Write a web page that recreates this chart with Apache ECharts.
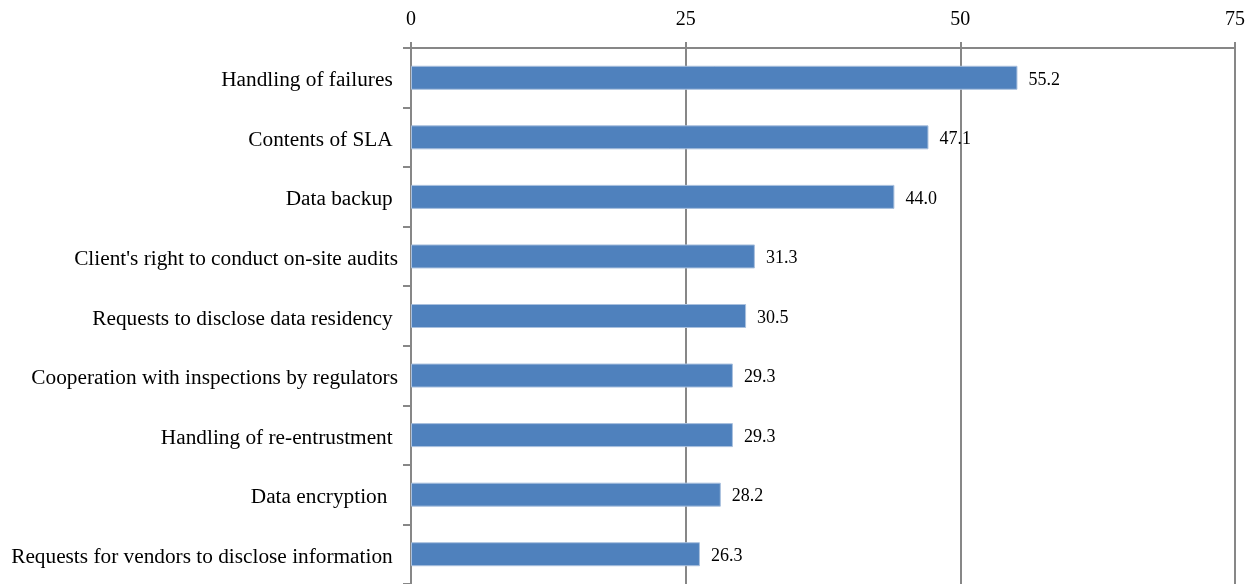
<!DOCTYPE html>
<html>
<head>
<meta charset="utf-8">
<script src="https://cdn.jsdelivr.net/npm/echarts@6/dist/echarts.min.js"></script>
<style>
  html, body { margin: 0; padding: 0; background: #fff; }
  #chart { width: 1258px; height: 584px; }
</style>
</head>
<body>
<div id="chart"></div>
<script>
// Contract items, top to bottom (trailing spaces keep the original label spacing)
const categories = [
  'Handling of failures ',
  'Contents of SLA ',
  'Data backup ',
  "Client's right to conduct on-site audits",
  'Requests to disclose data residency ',
  'Cooperation with inspections by regulators',
  'Handling of re-entrustment ',
  'Data encryption  ',
  'Requests for vendors to disclose information '
];
// Share of respondents (%)
const values = [55.2, 47.1, 44.0, 31.3, 30.5, 29.3, 29.3, 28.2, 26.3];
// Value axis ticks
const axisMin = 0;
const axisMax = 75;
const axisStep = 25;

const serif = 'Liberation Serif';
const gray = '#878787';

const chart = echarts.init(document.getElementById('chart'), null, { renderer: 'canvas' });
chart.setOption({
  animation: false,
  backgroundColor: '#ffffff',
  grid: { left: 411, right: 23, top: 48, bottom: -1, containLabel: false },
  xAxis: {
    type: 'value',
    position: 'top',
    min: axisMin,
    max: axisMax,
    interval: axisStep,
    axisLine: { show: true, lineStyle: { color: gray, width: 2 } },
    axisTick: { show: true, inside: false, length: 6, lineStyle: { color: gray, width: 2 } },
    axisLabel: { color: '#000', fontFamily: serif, fontSize: 20, margin: 18 },
    splitLine: { show: true, lineStyle: { color: gray, width: 2 } }
  },
  yAxis: {
    type: 'category',
    inverse: true,
    data: categories,
    axisLine: { show: true, lineStyle: { color: gray, width: 2 } },
    axisTick: { show: true, inside: false, length: 8, lineStyle: { color: gray, width: 2 } },
    // a short line box hung from the tick centre sets the text a few pixels low
    axisLabel: {
      color: '#000', fontFamily: serif, fontSize: 21.3, margin: 13,
      verticalAlign: 'top', lineHeight: 6
    },
    splitLine: { show: false }
  },
  series: [{
    type: 'bar',
    data: values,
    barWidth: 24,
    itemStyle: { color: '#4F81BD', borderColor: '#a9c0de', borderWidth: 1 },
    label: {
      show: true,
      position: 'right',
      distance: 11,
      offset: [0, 2],
      color: '#000',
      fontFamily: serif,
      fontSize: 18,
      formatter: p => p.value.toFixed(1)
    }
  }]
});
</script>
</body>
</html>
